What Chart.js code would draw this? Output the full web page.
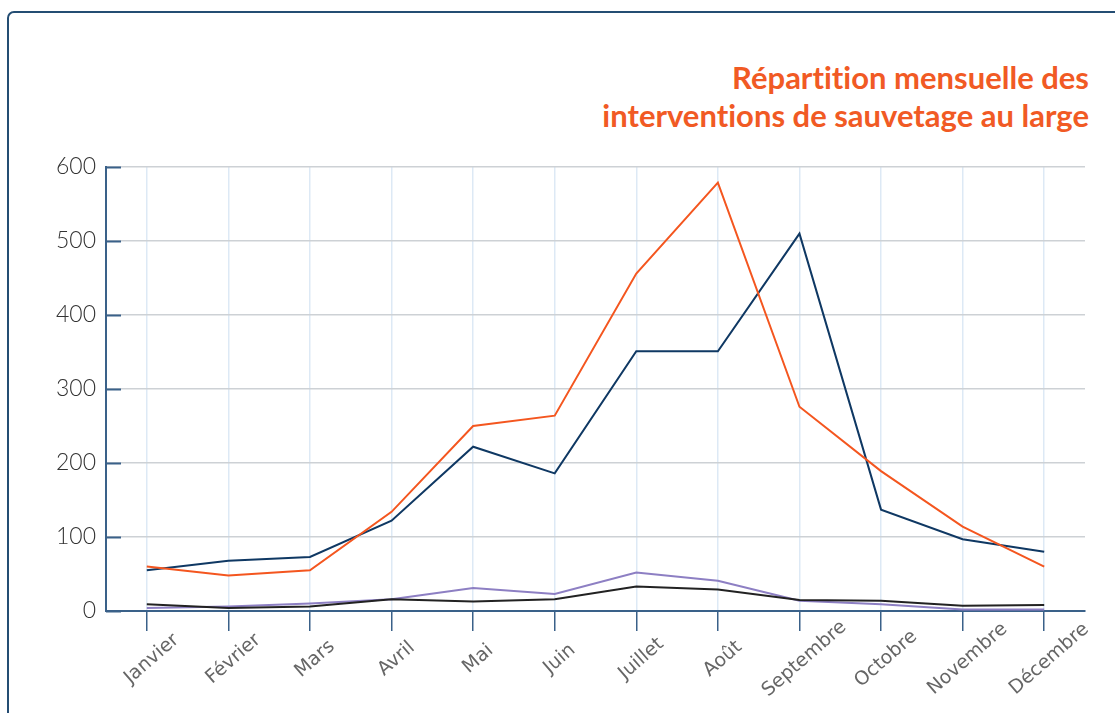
<!DOCTYPE html>
<html lang="fr">
<head>
<meta charset="utf-8">
<title>Répartition mensuelle des interventions de sauvetage au large</title>
<script src="https://cdn.jsdelivr.net/npm/chart.js@4.4.1/dist/chart.umd.min.js"></script>
<style>
    html, body { margin: 0; padding: 0; background: #fff; overflow: hidden; }
    #wrap { position: relative; width: 1115px; height: 713px; }
    #frame {
        position: absolute; left: 7px; top: 11px; width: 1200px; height: 800px;
        border: 2px solid #244d73; border-radius: 7px;
    }
    #title {
        position: absolute; right: 26px; top: 58px;
        font-family: Lato, sans-serif; font-weight: 700; font-size: 31px;
        line-height: 38px; color: #f15a24; text-align: right; white-space: nowrap;
        font-variant-ligatures: none; font-feature-settings: "liga" 0;
    }
    canvas { position: absolute; left: 0; top: 0; }
</style>
</head>
<body>
<div id="wrap">
    <div id="frame"></div>
    <div id="title">Répartition mensuelle des<br>interventions de sauvetage au large</div>
    <canvas id="line-chart" width="1115" height="713"></canvas>
</div>
<script>
// Mois
const months = ['Janvier', 'Février', 'Mars', 'Avril', 'Mai', 'Juin', 'Juillet', 'Août', 'Septembre', 'Octobre', 'Novembre', 'Décembre'];
// Séries
const orangeSeries = [60, 48, 55, 134, 250, 264, 456, 579, 276, 189, 114, 60];
const navySeries = [55, 68, 73, 122, 222, 186, 351, 351, 510, 137, 97, 80];
const purpleSeries = [4, 6, 10, 16, 31, 23, 52, 41, 14, 9, 2, 2];
const blackSeries = [9, 4, 6, 16, 13, 16, 33, 29, 15, 14, 7, 8];
// Axe Y
const yTicks = [0, 100, 200, 300, 400, 500, 600];

const axisBlue = '#3a6189';

// petits traits vers l'intérieur sur l'axe Y + étiquettes du bas tournées
const customAxes = {
    id: 'customAxes',
    afterDraw(chart) {
        const ctx = chart.ctx;
        const x = chart.scales.x;
        const y = chart.scales.y;
        ctx.save();
        ctx.strokeStyle = axisBlue;
        ctx.lineWidth = 2;
        yTicks.forEach((v) => {
            const py = Math.round(y.getPixelForValue(v)) + 0.5;
            ctx.beginPath();
            ctx.moveTo(chart.chartArea.left, py);
            ctx.lineTo(chart.chartArea.left + 15, py);
            ctx.stroke();
        });
        ctx.font = '19px "DejaVu Sans"';
        ctx.fillStyle = '#666666';
        ctx.textAlign = 'center';
        ctx.textBaseline = 'middle';
        months.forEach((m, i) => {
            ctx.save();
            ctx.translate(x.getPixelForValue(i) + 5, chart.chartArea.bottom + 48);
            ctx.rotate(-41 * Math.PI / 180);
            ctx.fillText(m, 0, 0);
            ctx.restore();
        });
        ctx.restore();
    }
};

const ctx = document.getElementById('line-chart').getContext('2d');
const myChart = new Chart(ctx, {
    type: 'line',
    data: {
        labels: months,
        datasets: [{
                label: 'Série 1',
                data: orangeSeries,
                borderColor: '#f4561f'
            },
            {
                label: 'Série 2',
                data: navySeries,
                borderColor: '#0f3863'
            },
            {
                label: 'Série 3',
                data: blackSeries,
                borderColor: '#222222'
            },
            {
                label: 'Série 4',
                data: purpleSeries,
                borderColor: '#8d7fc3'
            }
        ]
    },
    options: {
        responsive: false,
        animation: false,
        elements: {
            line: { borderWidth: 2, tension: 0, fill: false },
            point: { radius: 0, hoverRadius: 0 }
        },
        layout: {
            padding: { top: 167, left: 40, right: 30, bottom: 0 }
        },
        plugins: {
            legend: { display: false },
            tooltip: { enabled: false }
        },
        scales: {
            x: {
                offset: true,
                grid: {
                    offset: false,
                    color: '#dde9f5',
                    lineWidth: 1.5,
                    drawTicks: true,
                    tickLength: 20,
                    tickColor: axisBlue,
                    tickWidth: 1.5
                },
                border: { color: axisBlue, width: 2 },
                ticks: { display: false },
                afterFit: (scale) => { scale.height = 102; }
            },
            y: {
                min: 0,
                max: 600,
                grid: { color: '#cdd1d5', lineWidth: 1.5, drawTicks: false },
                border: { color: axisBlue, width: 2 },
                ticks: {
                    stepSize: 100,
                    padding: 10,
                    color: '#333333',
                    font: { family: 'Lato', size: 23, weight: '300' }
                },
                afterFit: (scale) => { scale.width = 66; }
            }
        }
    },
    plugins: [customAxes]
});
</script>
</body>
</html>
